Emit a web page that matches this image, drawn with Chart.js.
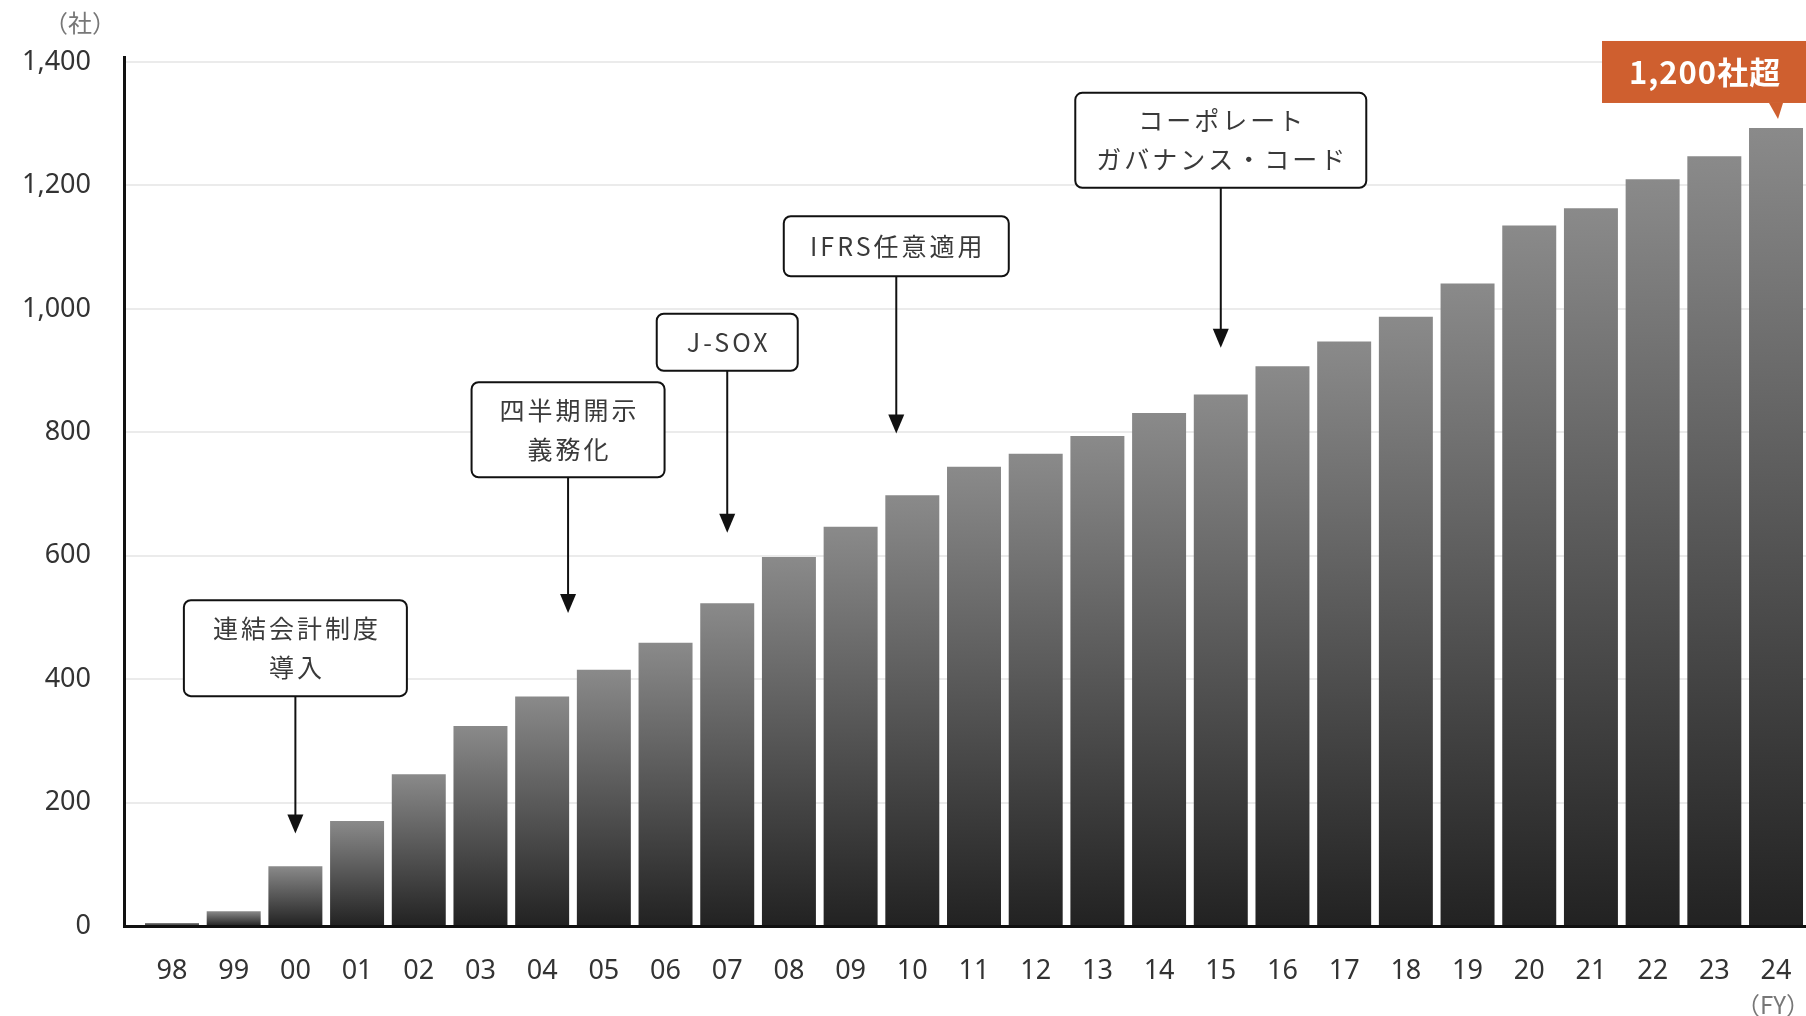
<!DOCTYPE html>
<html lang="ja">
<head>
<meta charset="utf-8">
<title>IFRS</title>
<script src="https://cdn.jsdelivr.net/npm/chart.js@4.4.1/dist/chart.umd.min.js"></script>
<style>
  html, body { margin: 0; padding: 0; background: #fff; overflow: hidden; }
  #wrap { width: 1806px; height: 1016px; position: relative; }
</style>
</head>
<body>
<div id="wrap"><canvas id="chart"></canvas></div>
<script>
// fiscal years (x axis) and number of companies per year
const years = ['98','99','00','01','02','03','04','05','06','07','08','09','10','11','12','13','14','15','16','17','18','19','20','21','22','23','24'];
const counts = [5, 24, 97, 170, 246, 324, 372, 415, 459, 523, 598, 647, 698, 744, 765, 794, 831, 861, 907, 947, 987, 1041, 1135, 1163, 1210, 1247, 1293];
const yTicks = [0, 200, 400, 600, 800, 1000, 1200, 1400];

// event callouts: x position (year index), arrow tip and box top (in 社)
const events = [
  { idx: 2,     lines: ['連結会計制度', '導入'], tip: 150, top: 528, w: 223, h: 96 },
  { idx: 6.42,  lines: ['四半期開示', '義務化'], tip: 507, top: 881, w: 193, h: 95 },
  { idx: 9,     lines: ['J-SOX'], tip: 637, top: 992, w: 141, h: 57 },
  { idx: 11.74, lines: ['IFRS任意適用'], tip: 798, top: 1150, w: 225, h: 60 },
  { idx: 17,    lines: ['コーポレート', 'ガバナンス・コード'], tip: 937, top: 1350, w: 291, h: 95 }
];
const highlight = '1,200社超';

Chart.defaults.font.family = '"Noto Sans", "Noto Sans CJK JP", sans-serif';
Chart.defaults.color = '#333';

const annotate = {
  id: 'annotate',
  afterDraw(chart) {
    const ctx = chart.ctx;
    const x = chart.scales.x, y = chart.scales.y;
    ctx.save();

    // event boxes with arrows
    events.forEach(ev => {
      const cx = x.getPixelForValue(ev.idx);
      const top = y.getPixelForValue(ev.top);
      const tip = y.getPixelForValue(ev.tip);
      ctx.lineWidth = 2;
      ctx.strokeStyle = '#111';
      ctx.fillStyle = '#fff';
      ctx.beginPath();
      ctx.roundRect(cx - ev.w / 2, top, ev.w, ev.h, 7);
      ctx.fill();
      ctx.stroke();

      ctx.beginPath();
      ctx.moveTo(cx, top + ev.h);
      ctx.lineTo(cx, tip - 16);
      ctx.stroke();
      ctx.fillStyle = '#111';
      ctx.beginPath();
      ctx.moveTo(cx - 8, tip - 19);
      ctx.lineTo(cx + 8, tip - 19);
      ctx.lineTo(cx, tip);
      ctx.closePath();
      ctx.fill();

      ctx.fillStyle = '#3a3a3a';
      ctx.font = '25px "Noto Sans CJK JP", sans-serif';
      ctx.letterSpacing = '3px';
      ctx.textAlign = 'center';
      ctx.textBaseline = 'middle';
      const mid = top + ev.h / 2;
      ev.lines.forEach((t, i) => {
        ctx.fillText(t, cx + 1.5, mid + (i - (ev.lines.length - 1) / 2) * 39);
      });
    });

    // orange badge over the last bar
    const last = counts.length - 1;
    const bx = x.getPixelForValue(last);
    const tipY = y.getPixelForValue(counts[last]) - 9;
    const boxBottom = tipY - 16;
    ctx.fillStyle = '#cf5f2f';
    ctx.fillRect(bx - 174, boxBottom - 62, 206, 62);
    ctx.beginPath();
    ctx.moveTo(bx - 7, boxBottom);
    ctx.lineTo(bx + 7, boxBottom);
    ctx.lineTo(bx + 2, tipY);
    ctx.closePath();
    ctx.fill();
    ctx.fillStyle = '#fff';
    ctx.font = 'bold 31px "Noto Sans CJK JP", sans-serif';
    ctx.letterSpacing = '1px';
    ctx.textAlign = 'center';
    ctx.textBaseline = 'middle';
    ctx.fillText(highlight, bx - 71, boxBottom - 31);

    // unit labels
    ctx.letterSpacing = '0px';
    ctx.fillStyle = '#777';
    ctx.font = '24px "Noto Sans CJK JP", sans-serif';
    ctx.fillText('（社）', 80, 23);
    ctx.textAlign = 'right';
    ctx.fillText('（FY）', 1810, 1005);
    ctx.restore();
  }
};

new Chart(document.getElementById('chart'), {
  type: 'bar',
  data: {
    datasets: [{
      data: counts.map((v, i) => ({ x: i, y: v })),
      barPercentage: 0.875,
      categoryPercentage: 1,
      backgroundColor: (c) => {
        const chart = c.chart;
        if (!chart.chartArea || c.type !== 'data') return '#555';
        const top = chart.scales.y.getPixelForValue(c.raw.y);
        const bottom = chart.scales.y.getPixelForValue(0);
        const g = chart.ctx.createLinearGradient(0, top, 0, bottom);
        g.addColorStop(0, '#8a8a8a');
        g.addColorStop(1, '#222');
        return g;
      }
    }]
  },
  options: {
    responsive: true,
    maintainAspectRatio: false,
    animation: false,
    layout: { padding: { top: 57, left: 0, right: 0, bottom: 0 } },
    plugins: { legend: { display: false }, tooltip: { enabled: false } },
    scales: {
      x: {
        type: 'linear',
        offset: false,
        min: -0.778,
        max: 26.486,
        grid: { display: false, offset: false },
        border: { color: '#111', width: 3 },
        afterBuildTicks: (s) => { s.ticks = years.map((_, i) => ({ value: i })); },
        afterFit: (s) => { s.height = 90; s.paddingLeft = 0; s.paddingRight = 0; },
        ticks: {
          callback: (v) => years[v],
          autoSkip: false,
          maxRotation: 0,
          padding: 21,
          color: '#333',
          font: { size: 27 }
        }
      },
      y: {
        min: 0,
        max: 1408,
        grid: { color: '#ebebeb', lineWidth: 2, drawTicks: false },
        border: { color: '#111', width: 3 },
        afterBuildTicks: (s) => { s.ticks = yTicks.map(v => ({ value: v })); },
        afterFit: (s) => { s.width = 124; s.paddingTop = 0; s.paddingBottom = 0; },
        ticks: {
          callback: (v) => v.toLocaleString('en-US'),
          padding: 33,
          color: '#333',
          font: { size: 27 }
        }
      }
    }
  },
  plugins: [annotate]
});
</script>
</body>
</html>
